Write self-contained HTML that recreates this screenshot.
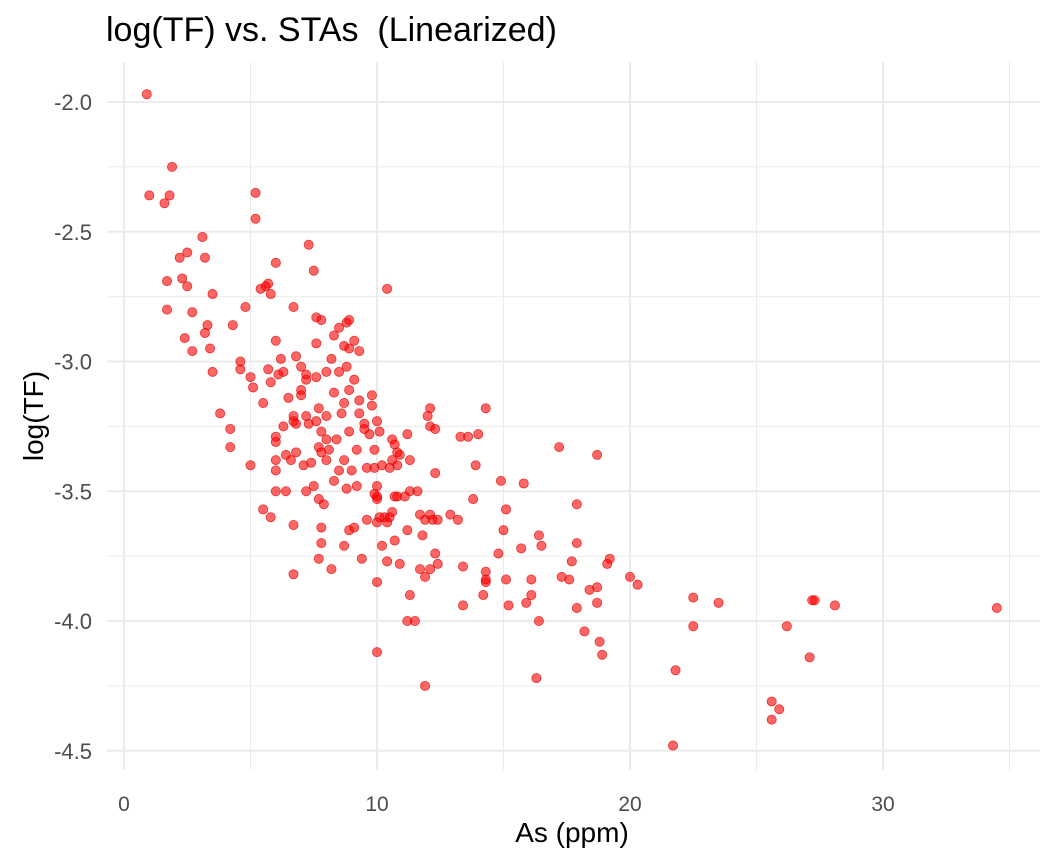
<!DOCTYPE html>
<html><head><meta charset="utf-8"><style>
html,body{margin:0;padding:0;background:#fff;}
svg{display:block;font-family:"Liberation Sans",sans-serif;}
</style></head><body>
<svg id="chart" width="1056" height="864" viewBox="0 0 1056 864">
<text x="106" y="41" font-size="34" fill="#000" xml:space="preserve">log(TF) vs. STAs &#160;(Linearized)</text>
<g id="grid"></g>
<g id="points"></g>
<g id="ticks"></g>
<text x="572" y="842" font-size="28" text-anchor="middle" fill="#000">As (ppm)</text>
<text transform="translate(43,416) rotate(-90)" font-size="28" text-anchor="middle" fill="#000">log(TF)</text>
</svg>
<script>
const xTicks=[0,10,20,30];
const xMinor=[5,15,25,35];
const yTicks=[-2.0,-2.5,-3.0,-3.5,-4.0,-4.5];
const yTickLabels=["-2.0","-2.5","-3.0","-3.5","-4.0","-4.5"];
const yMinor=[-2.25,-2.75,-3.25,-3.75,-4.25];
const asPpm=[0.9,1.0,1.6,1.8,1.9,1.7,1.7,2.2,2.3,2.5,2.5,2.7,2.4,2.7,3.1,3.2,3.3,3.2,3.4,3.5,3.5,4.3,3.8,4.2,4.2,4.6,4.6,4.8,5.0,5.1,5.0,5.2,5.2,5.4,5.6,5.7,5.8,5.5,5.7,5.8,6.0,6.0,5.5,5.8,6.0,6.0,6.0,6.0,6.0,6.1,6.2,6.3,6.3,6.4,6.4,6.5,6.6,6.7,6.7,6.8,6.8,6.7,6.8,7.0,7.0,7.0,7.1,7.2,6.7,6.7,7.2,7.2,7.2,7.3,7.3,7.4,7.5,7.5,7.6,7.6,7.6,7.6,7.7,7.8,7.7,7.7,7.7,7.8,7.8,7.8,7.8,7.9,8.0,8.0,8.0,8.1,8.0,8.2,8.2,8.3,8.3,8.3,8.4,8.5,8.5,8.5,8.6,8.7,8.7,8.7,8.7,8.8,8.8,8.8,8.9,8.9,8.9,8.9,8.9,9.0,9.1,9.1,9.1,9.2,9.2,9.3,9.3,9.3,9.4,9.5,9.5,9.6,9.6,9.7,9.8,9.8,9.9,9.9,10.0,9.9,10.0,10.0,10.0,10.0,10.0,10.0,10.1,10.2,10.1,10.2,10.3,10.4,10.4,10.4,10.5,10.5,10.6,10.6,10.6,10.7,10.7,10.7,10.8,10.8,10.8,10.9,10.9,11.1,11.2,11.2,11.3,11.3,11.3,11.2,11.5,11.6,11.7,11.7,11.8,11.9,11.9,11.9,12.0,12.1,12.1,12.1,12.1,12.2,12.3,12.3,12.3,12.4,12.4,12.9,13.2,13.3,13.4,13.4,13.6,13.8,13.9,14.0,14.2,14.3,14.3,14.3,14.3,14.8,14.9,15.0,15.1,15.1,15.2,15.7,15.8,15.9,16.1,16.1,16.4,16.4,16.5,16.3,17.2,17.3,17.6,17.7,17.9,17.9,17.9,18.2,18.4,18.7,18.7,18.7,18.8,18.9,19.1,19.2,20.0,20.3,21.8,21.7,22.5,22.5,23.5,25.6,25.6,25.9,26.2,27.1,27.2,27.3,28.1,34.5];
const logTF=[-1.97,-2.36,-2.39,-2.36,-2.25,-2.69,-2.80,-2.60,-2.68,-2.58,-2.71,-2.81,-2.91,-2.96,-2.52,-2.60,-2.86,-2.89,-2.95,-2.74,-3.04,-2.86,-3.20,-3.26,-3.33,-3.00,-3.03,-2.79,-3.06,-3.10,-3.40,-2.35,-2.45,-2.72,-2.71,-2.70,-2.74,-3.16,-3.03,-3.08,-2.62,-2.92,-3.57,-3.60,-3.29,-3.31,-3.38,-3.42,-3.50,-3.05,-2.99,-3.04,-3.25,-3.36,-3.50,-3.14,-3.38,-3.23,-3.21,-3.24,-3.35,-2.79,-2.98,-3.13,-3.02,-3.11,-3.40,-3.07,-3.82,-3.63,-3.05,-3.21,-3.50,-3.24,-2.55,-3.39,-3.48,-2.65,-2.83,-2.93,-3.06,-3.23,-3.76,-2.84,-3.18,-3.33,-3.53,-3.27,-3.35,-3.64,-3.70,-3.55,-3.04,-3.21,-3.38,-3.34,-3.30,-3.80,-2.99,-3.12,-2.90,-3.46,-3.30,-3.04,-3.42,-2.87,-3.20,-2.94,-3.16,-3.38,-3.71,-3.02,-2.85,-3.49,-2.84,-3.11,-3.27,-3.65,-2.95,-3.42,-2.92,-3.07,-3.64,-3.34,-3.48,-3.15,-2.96,-3.20,-3.76,-3.24,-3.26,-3.61,-3.41,-3.28,-3.13,-3.17,-3.34,-3.41,-3.62,-3.51,-3.53,-3.48,-3.52,-3.85,-4.12,-3.23,-3.27,-3.71,-3.60,-3.40,-3.60,-3.62,-2.72,-3.77,-3.60,-3.41,-3.30,-3.58,-3.38,-3.32,-3.52,-3.69,-3.35,-3.52,-3.40,-3.36,-3.78,-3.52,-3.28,-3.65,-3.38,-3.50,-3.90,-4.00,-4.00,-3.50,-3.59,-3.80,-3.67,-3.61,-3.83,-4.25,-3.21,-3.18,-3.25,-3.80,-3.59,-3.61,-3.26,-3.43,-3.74,-3.78,-3.61,-3.59,-3.61,-3.29,-3.79,-3.94,-3.29,-3.53,-3.40,-3.28,-3.90,-3.85,-3.81,-3.84,-3.18,-3.74,-3.46,-3.65,-3.84,-3.57,-3.94,-3.72,-3.47,-3.93,-3.90,-3.84,-3.67,-4.00,-3.71,-4.22,-3.33,-3.83,-3.84,-3.77,-3.55,-3.70,-3.95,-4.04,-3.88,-3.87,-3.36,-3.93,-4.08,-4.13,-3.78,-3.76,-3.83,-3.86,-4.19,-4.48,-3.91,-4.02,-3.93,-4.31,-4.38,-4.34,-4.02,-4.14,-3.92,-3.92,-3.94,-3.95];

const NS="http://www.w3.org/2000/svg";
const xs=v=>124+v*25.3;
const ys=v=>102+(-2-v)*259.5;
const L=107,R=1040,T=62,B=770;
const grid=document.getElementById('grid');
function line(x1,y1,x2,y2,w,name){
  const l=document.createElementNS(NS,'line');
  l.setAttribute('x1',x1);l.setAttribute('y1',y1);l.setAttribute('x2',x2);l.setAttribute('y2',y2);
  l.setAttribute('stroke','#ebebeb');l.setAttribute('stroke-width',w);
  
  
  grid.appendChild(l);
}
xMinor.forEach(v=>line(xs(v),T,xs(v),B,1,'x-minor-gridline'));
yMinor.forEach(v=>line(L,ys(v),R,ys(v),1,'y-minor-gridline'));
xTicks.forEach(v=>line(xs(v),T,xs(v),B,2,'x-major-gridline'));
yTicks.forEach(v=>line(L,ys(v),R,ys(v),2,'y-major-gridline'));
const ticks=document.getElementById('ticks');
xTicks.forEach(v=>{
  const t=document.createElementNS(NS,'text');
  t.setAttribute('x',xs(v));t.setAttribute('y',811);t.setAttribute('text-anchor','middle');
  t.setAttribute('font-size','21');t.setAttribute('fill','#4d4d4d');
  t.textContent=String(v);
  
  
  ticks.appendChild(t);
});
yTicks.forEach((v,i)=>{
  const t=document.createElementNS(NS,'text');
  t.setAttribute('x',92);t.setAttribute('y',ys(v)+8);t.setAttribute('text-anchor','end');
  t.setAttribute('font-size','22');t.setAttribute('fill','#4d4d4d');
  t.textContent=yTickLabels[i];
  
  
  ticks.appendChild(t);
});
const pts=document.getElementById('points');
asPpm.forEach((x,i)=>{
  const c=document.createElementNS(NS,'circle');
  c.setAttribute('cx',xs(x));c.setAttribute('cy',ys(logTF[i]));c.setAttribute('r',4.6);
  c.setAttribute('fill','rgba(255,0,0,0.6)');c.setAttribute('stroke','rgba(220,0,0,0.7)');c.setAttribute('stroke-width','0.8');
  
  
  pts.appendChild(c);
});
</script>
</body></html>
